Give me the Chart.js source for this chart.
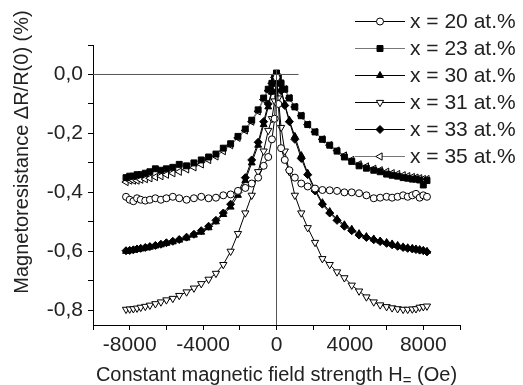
<!DOCTYPE html>
<html>
<head>
<meta charset="utf-8">
<script src="https://cdn.jsdelivr.net/npm/chart.js@4"></script>
<style>
  html, body { margin: 0; padding: 0; background: #fff; }
  #mr__graph { display: block; }
</style>
</head>
<body>
<canvas id="mr__graph" width="523" height="385"></canvas>
<script>
// field values (Oe), shared by all samples
const fieldH = [-8200, -8000, -7800, -7600, -7400, -7150, -6900, -6600, -6300, -6000, -5650, -5300, -4900, -4500, -4100, -3700, -3300, -2900, -2500, -2100, -1700, -1350, -1000, -700, -450, -250, -100,
  0,
  100, 250, 450, 700, 1000, 1350, 1700, 2100, 2500, 2900, 3300, 3700, 4100, 4500, 4900, 5300, 5650, 6000, 6300, 6600, 6900, 7150, 7400, 7600, 7800, 8000, 8200];

// magnetoresistance dR/R(0), one array per composition
const mr20 = [-0.415, -0.425, -0.43, -0.42, -0.425, -0.428, -0.425, -0.42, -0.425, -0.42, -0.415, -0.42, -0.425, -0.42, -0.415, -0.42, -0.418, -0.41, -0.407, -0.395, -0.385, -0.37, -0.35, -0.31, -0.28, -0.22, -0.15,
  -0.01,
  -0.10, -0.25, -0.29, -0.325, -0.35, -0.37, -0.38, -0.387, -0.392, -0.393, -0.395, -0.40, -0.40, -0.403, -0.41, -0.42, -0.418, -0.415, -0.418, -0.415, -0.41, -0.415, -0.41, -0.405, -0.418, -0.41, -0.415];
const mr23 = [-0.35, -0.345, -0.345, -0.34, -0.34, -0.335, -0.33, -0.32, -0.325, -0.32, -0.315, -0.305, -0.31, -0.30, -0.29, -0.28, -0.27, -0.25, -0.235, -0.21, -0.185, -0.155, -0.12, -0.08, -0.05, -0.03, -0.01,
  0.005,
  -0.01, -0.03, -0.05, -0.08, -0.11, -0.14, -0.17, -0.195, -0.22, -0.24, -0.26, -0.28, -0.295, -0.31, -0.318, -0.325, -0.33, -0.338, -0.342, -0.345, -0.35, -0.352, -0.355, -0.355, -0.358, -0.375, -0.36];
const mr30 = [-0.6, -0.598, -0.596, -0.594, -0.592, -0.589, -0.586, -0.582, -0.578, -0.573, -0.568, -0.562, -0.555, -0.545, -0.535, -0.52, -0.50, -0.475, -0.45, -0.41, -0.36, -0.30, -0.24, -0.17, -0.11, -0.06, -0.025,
  0.0,
  -0.02, -0.05, -0.10, -0.155, -0.21, -0.275, -0.335, -0.39, -0.435, -0.465, -0.49, -0.51, -0.525, -0.54, -0.55, -0.558, -0.565, -0.57, -0.575, -0.58, -0.585, -0.588, -0.59, -0.592, -0.594, -0.597, -0.6];
const mr31 = [-0.797, -0.796, -0.795, -0.793, -0.79, -0.787, -0.783, -0.778, -0.772, -0.765, -0.76, -0.75, -0.738, -0.725, -0.71, -0.695, -0.675, -0.645, -0.60, -0.54, -0.47, -0.41, -0.33, -0.26, -0.19, -0.15, -0.09,
  -0.01,
  -0.08, -0.18, -0.26, -0.33, -0.41, -0.47, -0.52, -0.57, -0.625, -0.645, -0.67, -0.69, -0.715, -0.735, -0.755, -0.772, -0.782, -0.788, -0.792, -0.795, -0.797, -0.797, -0.796, -0.795, -0.79, -0.788, -0.786];
const mr33 = [-0.598, -0.597, -0.595, -0.592, -0.59, -0.587, -0.584, -0.58, -0.576, -0.571, -0.566, -0.56, -0.552, -0.542, -0.53, -0.515, -0.495, -0.47, -0.44, -0.40, -0.35, -0.29, -0.23, -0.16, -0.10, -0.055, -0.02,
  0.0,
  -0.025, -0.055, -0.105, -0.16, -0.22, -0.285, -0.34, -0.395, -0.44, -0.47, -0.495, -0.515, -0.53, -0.545, -0.553, -0.561, -0.567, -0.573, -0.578, -0.583, -0.587, -0.59, -0.592, -0.594, -0.596, -0.598, -0.602];
const mr35 = [-0.365, -0.36, -0.36, -0.36, -0.357, -0.355, -0.352, -0.348, -0.345, -0.34, -0.335, -0.33, -0.322, -0.315, -0.305, -0.29, -0.278, -0.26, -0.24, -0.215, -0.19, -0.16, -0.125, -0.085, -0.055, -0.03, -0.01,
  0.0,
  -0.01, -0.03, -0.05, -0.08, -0.11, -0.14, -0.17, -0.195, -0.22, -0.24, -0.258, -0.275, -0.29, -0.305, -0.312, -0.32, -0.325, -0.33, -0.335, -0.338, -0.342, -0.345, -0.348, -0.35, -0.352, -0.355, -0.355];

const seriesLabels = ['x = 20 at.%', 'x = 23 at.%', 'x = 30 at.%', 'x = 31 at.%', 'x = 33 at.%', 'x = 35 at.%'];

// reference lines drawn in the original (zero line and H = 0 line)
const zeroLineH = [-10000, 1200];
const zeroLineR = [0, 0];
const axisLineH = [0, 0];
const axisLineR = [0.015, -0.85];

const xTicks = [-10000, -8000, -6000, -4000, -2000, 0, 2000, 4000, 6000, 8000, 10000];
const xLabels = [-8000, -4000, 0, 4000, 8000];
const yTicks = [0.1, 0, -0.1, -0.2, -0.3, -0.4, -0.5, -0.6, -0.7, -0.8];
const yLabels = [0, -0.2, -0.4, -0.6, -0.8];

const FONT = "'Liberation Sans', Arial, sans-serif";

const toPoints = (xs, ys) => xs.map((x, i) => ({ x: x, y: ys[i] }));

const markerStyles = [
  { pointStyle: 'circle', rotation: 0, fill: '#fff', line: '#000' },
  { pointStyle: 'rect', rotation: 0, fill: '#000', line: '#777' },
  { pointStyle: 'triangle', rotation: 0, fill: '#000', line: '#000' },
  { pointStyle: 'triangle', rotation: 180, fill: '#fff', line: '#000' },
  { pointStyle: 'rectRot', rotation: 0, fill: '#000', line: '#000' },
  { pointStyle: 'triangle', rotation: -90, fill: '#fff', line: '#777' },
];
const radii = [3.5, 4.2, 4, 4.2, 4, 4.2];

const seriesData = [mr20, mr23, mr30, mr31, mr33, mr35];

const datasets = seriesData.map((vals, i) => ({
  label: seriesLabels[i],
  data: toPoints(fieldH, vals),
  showLine: true,
  borderColor: markerStyles[i].line,
  borderWidth: 1,
  pointStyle: markerStyles[i].pointStyle,
  rotation: markerStyles[i].rotation,
  pointRadius: radii[i],
  pointBackgroundColor: markerStyles[i].fill,
  pointBorderColor: '#000',
  pointBorderWidth: 1,
}));

datasets.unshift({
  label: 'zero',
  data: toPoints(zeroLineH, zeroLineR),
  showLine: true,
  borderColor: '#555',
  borderWidth: 1,
  pointRadius: 0,
}, {
  label: 'h0',
  data: toPoints(axisLineH, axisLineR),
  showLine: true,
  borderColor: '#555',
  borderWidth: 1,
  pointRadius: 0,
});

// legend + axis titles drawn on the canvas (legend sits over the plot in the original)
const overlay = {
  id: 'overlay',
  afterDraw(chart) {
    const ctx = chart.ctx;
    const area = chart.chartArea;
    ctx.save();
    ctx.fillStyle = '#222';

    // legend
    ctx.font = '21px ' + FONT;
    ctx.textBaseline = 'middle';
    ctx.textAlign = 'left';
    for (let i = 0; i < seriesLabels.length; i++) {
      const y = 21 + i * 27;
      const st = markerStyles[i];
      ctx.strokeStyle = st.line;
      ctx.lineWidth = 1;
      ctx.beginPath();
      ctx.moveTo(355, y + 0.5);
      ctx.lineTo(405, y + 0.5);
      ctx.stroke();
      ctx.fillStyle = st.fill;
      ctx.strokeStyle = '#000';
      Chart.helpers.drawPoint(ctx, { pointStyle: st.pointStyle, rotation: st.rotation, radius: radii[i], borderWidth: 1 }, 380, y + 0.5);
      ctx.fillStyle = '#222';
      ctx.fillText(seriesLabels[i], 410, y + 1);
    }

    // y title
    ctx.save();
    ctx.translate(22, 152);
    ctx.rotate(-Math.PI / 2);
    ctx.textAlign = 'center';
    ctx.textBaseline = 'middle';
    ctx.font = '20px ' + FONT;
    ctx.fillText('Magnetoresistance \u0394R/R(0) (%)', 0, 0);
    ctx.restore();

    // x title with subscript "="
    const main = 'Constant magnetic field strength H';
    const sub = '=';
    const tail = ' (Oe)';
    ctx.textBaseline = 'alphabetic';
    ctx.textAlign = 'left';
    ctx.font = '20px ' + FONT;
    const w1 = ctx.measureText(main).width;
    const w3 = ctx.measureText(tail).width;
    ctx.font = '15px ' + FONT;
    const w2 = ctx.measureText(sub).width;
    const cx = (area.left + area.right) / 2;
    let x = cx - (w1 + w2 + w3) / 2;
    const base = 381;
    ctx.font = '20px ' + FONT;
    ctx.fillText(main, x, base);
    x += w1;
    ctx.font = '15px ' + FONT;
    ctx.fillText(sub, x, base + 4);
    x += w2;
    ctx.font = '20px ' + FONT;
    ctx.fillText(tail, x, base);
    ctx.restore();
  }
};

const ctxMr = document.getElementById('mr__graph').getContext('2d');

const mrChart = new Chart(ctxMr, {
  type: 'scatter',
  data: { datasets: datasets },
  options: {
    responsive: false,
    animation: false,
    devicePixelRatio: 1,
    layout: { padding: { top: 45, right: 63, left: 0, bottom: 0 } },
    plugins: {
      legend: { display: false },
      tooltip: { enabled: false },
    },
    scales: {
      x: {
        type: 'linear',
        min: -10000,
        max: 10000,
        afterBuildTicks: (scale) => { scale.ticks = xTicks.map(v => ({ value: v })); },
        afterFit: (scale) => { scale.height = 60; },
        ticks: {
          autoSkip: false,
          maxRotation: 0,
          padding: 3,
          color: '#222',
          font: { family: FONT, size: 21 },
          callback: (v) => xLabels.includes(v) ? String(v) : '',
        },
        grid: { drawOnChartArea: false, drawTicks: true, tickLength: 5, color: '#000' },
        border: { display: true, color: '#000', width: 1 },
      },
      y: {
        type: 'linear',
        min: -0.85,
        max: 0.1,
        afterBuildTicks: (scale) => { scale.ticks = yTicks.map(v => ({ value: v })); },
        afterFit: (scale) => { scale.width = 93; },
        ticks: {
          autoSkip: false,
          padding: 5,
          color: '#222',
          font: { family: FONT, size: 21 },
          callback: (v) => yLabels.some(l => Math.abs(l - v) < 1e-6) ? v.toFixed(1).replace('.', ',') : '',
        },
        grid: { drawOnChartArea: false, drawTicks: true, tickLength: 5, color: '#000' },
        border: { display: true, color: '#000', width: 1 },
      }
    }
  },
  plugins: [overlay]
});
</script>
</body>
</html>
